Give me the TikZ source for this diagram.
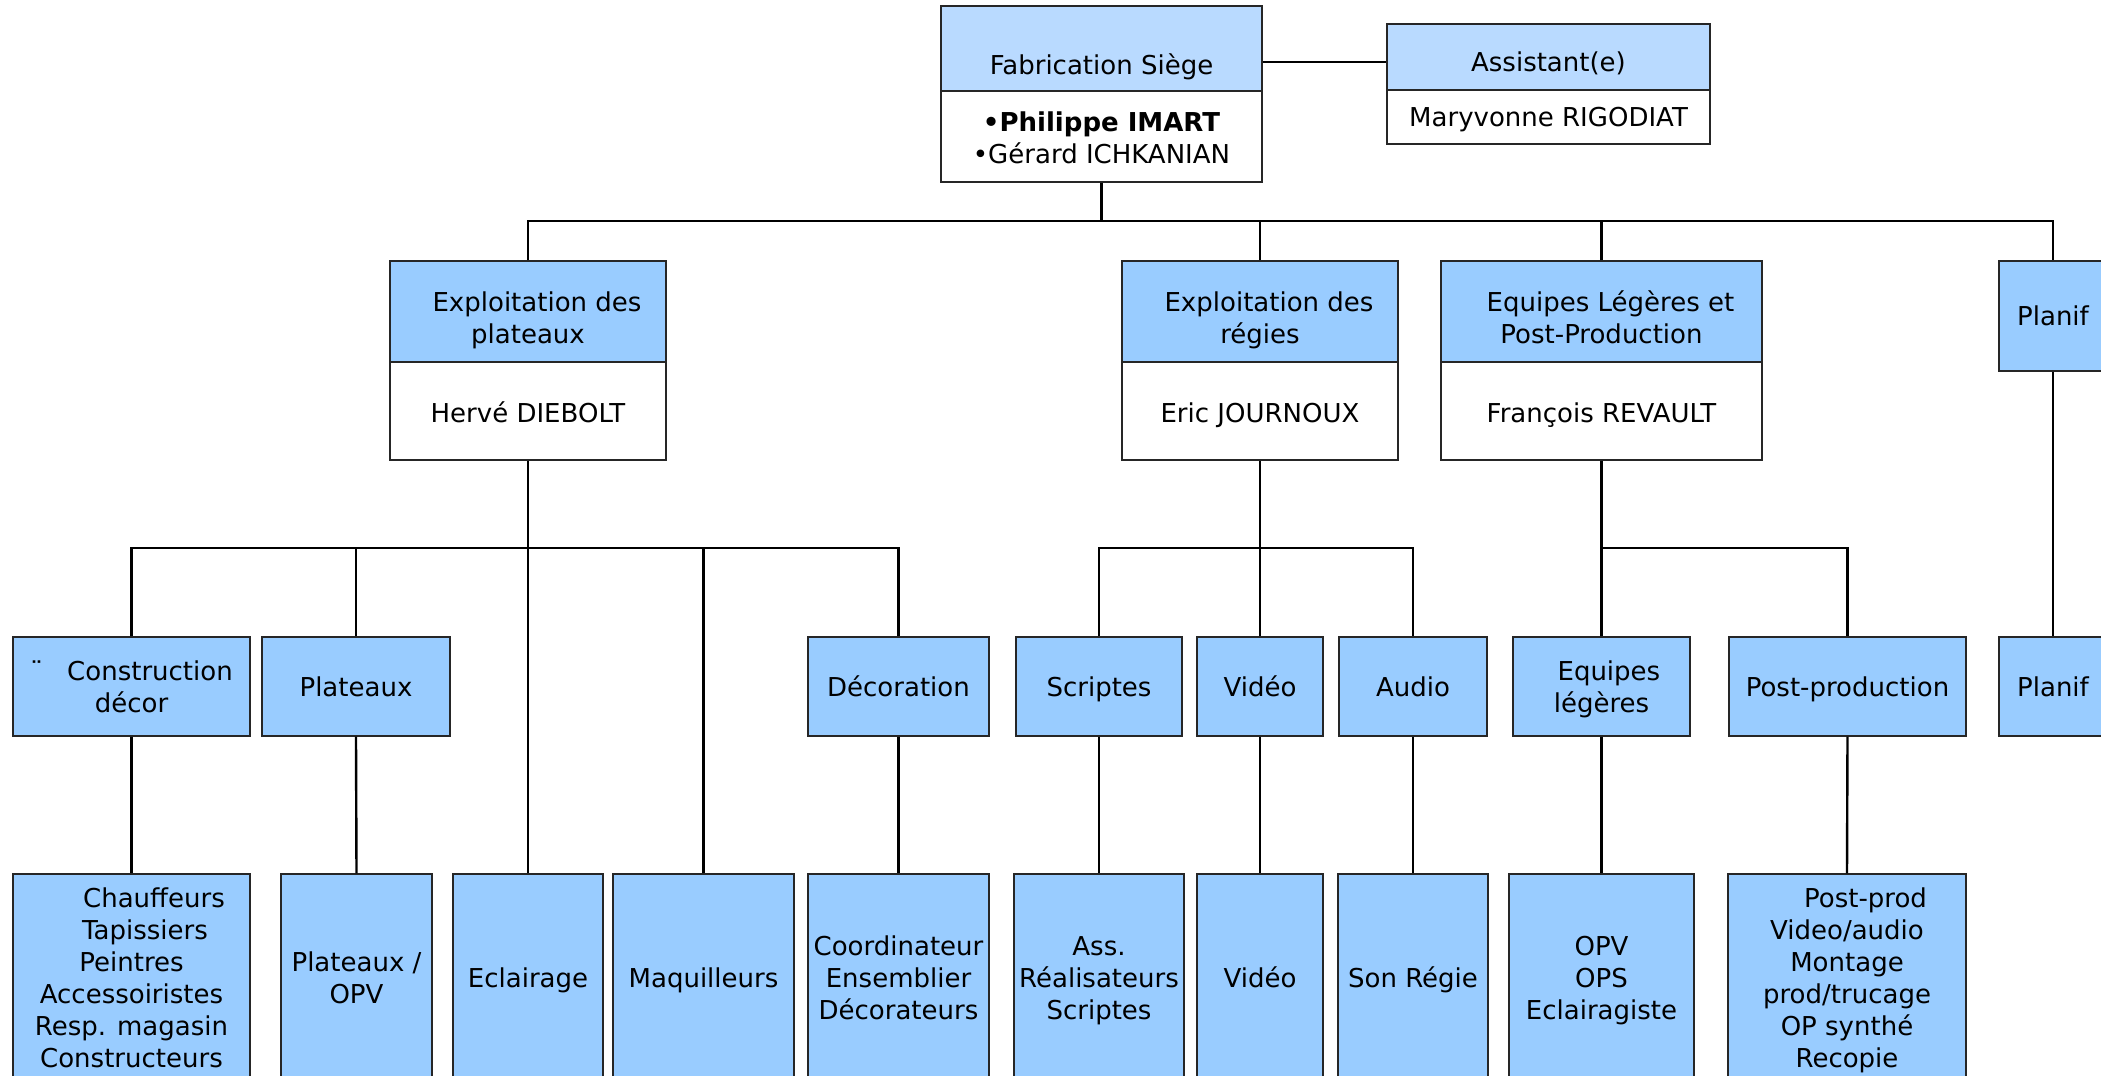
\documentclass[tikz,border=0pt]{standalone}
\usepackage{fontspec}
\setmainfont{DejaVu Sans}
\definecolor{topblue}{RGB}{185,218,255}
\definecolor{midblue}{RGB}{153,204,255}
\newcommand\mkbox[7]{\node[#1, minimum width={(#5-#3)*0.5pt}, minimum height={(#6-#4)*0.5pt}] (#2) at ({(#3+#5)/2},{(#4+#6)/2}) {#7};}
\begin{document}
\begin{tikzpicture}[x=0.5pt,y=-0.5pt,
  box/.style={draw=black!85, line width=0.7pt, inner sep=0pt, align=center, font=\fontsize{13}{16}\selectfont, text height=9.5pt, text depth=0pt},
  lines2/.style={text height=25.5pt},
  lines3/.style={text height=41.5pt},
  lines6/.style={text height=89.5pt},
  hdtop/.style={box, fill=topblue},
  hd/.style={box, fill=midblue},
  wb/.style={box, fill=white},
  conn/.style={draw=black, line width=1.2pt}]
\fill[white] (0,0) rectangle (2101,1076);
\useasboundingbox (0,0) rectangle (2101,1076);
\clip (0,0) rectangle (2101,1076);

% top level
\mkbox{hdtop, text height=26pt}{fabH}{941}{6}{1262}{91}{Fabrication Siège}
\mkbox{wb, lines2, text height=27pt}{fabB}{941}{91}{1262}{182}{\textbf{•Philippe IMART}\\•Gérard ICHKANIAN}
\mkbox{hdtop, text height=14pt}{asH}{1387}{24}{1710}{90}{Assistant(e)}
\mkbox{wb}{asB}{1387}{90}{1710}{144}{Maryvonne RIGODIAT}

% level 2
\mkbox{hd, text height=31.5pt}{pH}{390}{261}{666}{362}{\hspace*{9pt}Exploitation des\\plateaux}
\mkbox{wb, text height=11pt}{pB}{390}{362}{666}{460}{Hervé DIEBOLT}
\mkbox{hd, text height=31.5pt}{rH}{1122}{261}{1398}{362}{\hspace*{9pt}Exploitation des\\régies}
\mkbox{wb, text height=11pt}{rB}{1122}{362}{1398}{460}{Eric JOURNOUX}
\mkbox{hd, text height=31.5pt}{eH}{1441}{261}{1762}{362}{\hspace*{9pt}Equipes Légères et\\Post-Production}
\mkbox{wb, text height=11pt}{eB}{1441}{362}{1762}{460}{François REVAULT}
\mkbox{hd}{plH}{1999}{261}{2107}{371}{Planif}

% level 3
\mkbox{hd, lines2}{cons}{13}{637}{250}{736}{¨\hspace{12pt}Construction\\décor}
\mkbox{hd}{plat}{262}{637}{450}{736}{Plateaux}
\mkbox{hd}{deco}{808}{637}{989}{736}{Décoration}
\mkbox{hd}{scr}{1016}{637}{1182}{736}{Scriptes}
\mkbox{hd}{vid}{1197}{637}{1323}{736}{Vidéo}
\mkbox{hd}{aud}{1339}{637}{1487}{736}{Audio}
\mkbox{hd, lines2}{eql}{1513}{637}{1690}{736}{\hspace*{7.4pt}Equipes\\légères}
\mkbox{hd}{post}{1729}{637}{1966}{736}{Post-production}
\mkbox{hd}{plan3}{1999}{637}{2107}{736}{Planif}

% level 4
\mkbox{hd, lines6}{chauf}{13}{874}{250}{1082}{\hspace*{22.5pt}Chauffeurs\\\hspace*{13.5pt}Tapissiers\\Peintres\\Accessoiristes\\Resp. magasin\\Constructeurs}
\mkbox{hd, lines2}{platopv}{281}{874}{432}{1082}{Plateaux /\\OPV}
\mkbox{hd}{ecl}{453}{874}{603}{1082}{Eclairage}
\mkbox{hd}{maq}{613}{874}{794}{1082}{Maquilleurs}
\mkbox{hd, lines3}{coord}{808}{874}{989}{1082}{Coordinateur\\Ensemblier\\Décorateurs}
\mkbox{hd, lines3}{ass}{1014}{874}{1184}{1082}{Ass.\\Réalisateurs\\Scriptes}
\mkbox{hd}{vid4}{1197}{874}{1323}{1082}{Vidéo}
\mkbox{hd}{son}{1338}{874}{1488}{1082}{Son Régie}
\mkbox{hd, lines3}{opv}{1509}{874}{1694}{1082}{OPV\\OPS\\Eclairagiste}
\mkbox{hd, lines6}{postprod}{1728}{874}{1966}{1082}{\hspace*{18.5pt}Post-prod\\Video/audio\\Montage\\prod/trucage\\OP synthé\\Recopie}

% bus levels
\coordinate (bus1) at (0,221);
\coordinate (bus2) at (0,548);

% connectors
\draw[conn] ([yshift=-6.75pt]fabH.east) -- ([yshift=-2.5pt]asH.west);
\draw[conn] (fabB.south) -- (fabB.south |- bus1);
\draw[conn] (pH.north) |- (plH.north |- bus1) -- (plH.north);
\draw[conn] (rH.north) -- (rH.north |- bus1);
\draw[conn] (eH.north) -- (eH.north |- bus1);

\draw[conn] (pB.south) -- (pB.south |- bus2);
\draw[conn] (cons.north) |- (deco.north |- bus2) -- (deco.north);
\draw[conn] (plat.north) -- (plat.north |- bus2);
\draw[conn] (ecl.north) -- (ecl.north |- bus2);
\draw[conn] (maq.north) -- (maq.north |- bus2);

\draw[conn] (rB.south) -- (rB.south |- bus2);
\draw[conn] (scr.north) |- (aud.north |- bus2) -- (aud.north);
\draw[conn] (vid.north) -- (vid.north |- bus2);

\draw[conn] (eB.south) -- (eB.south |- bus2);
\draw[conn] (eql.north) |- (post.north |- bus2) -- (post.north);

\draw[conn] (plH.south) -- (plan3.north);

\draw[conn] (cons.south) -- (chauf.north);
\draw[conn] (plat.south) -- (platopv.north);
\draw[conn] (deco.south) -- (coord.north);
\draw[conn] (scr.south) -- (ass.north);
\draw[conn] (vid.south) -- (vid4.north);
\draw[conn] (aud.south) -- (son.north);
\draw[conn] (eql.south) -- (opv.north);
\draw[conn] (post.south) -- (postprod.north);
\end{tikzpicture}
\end{document}
